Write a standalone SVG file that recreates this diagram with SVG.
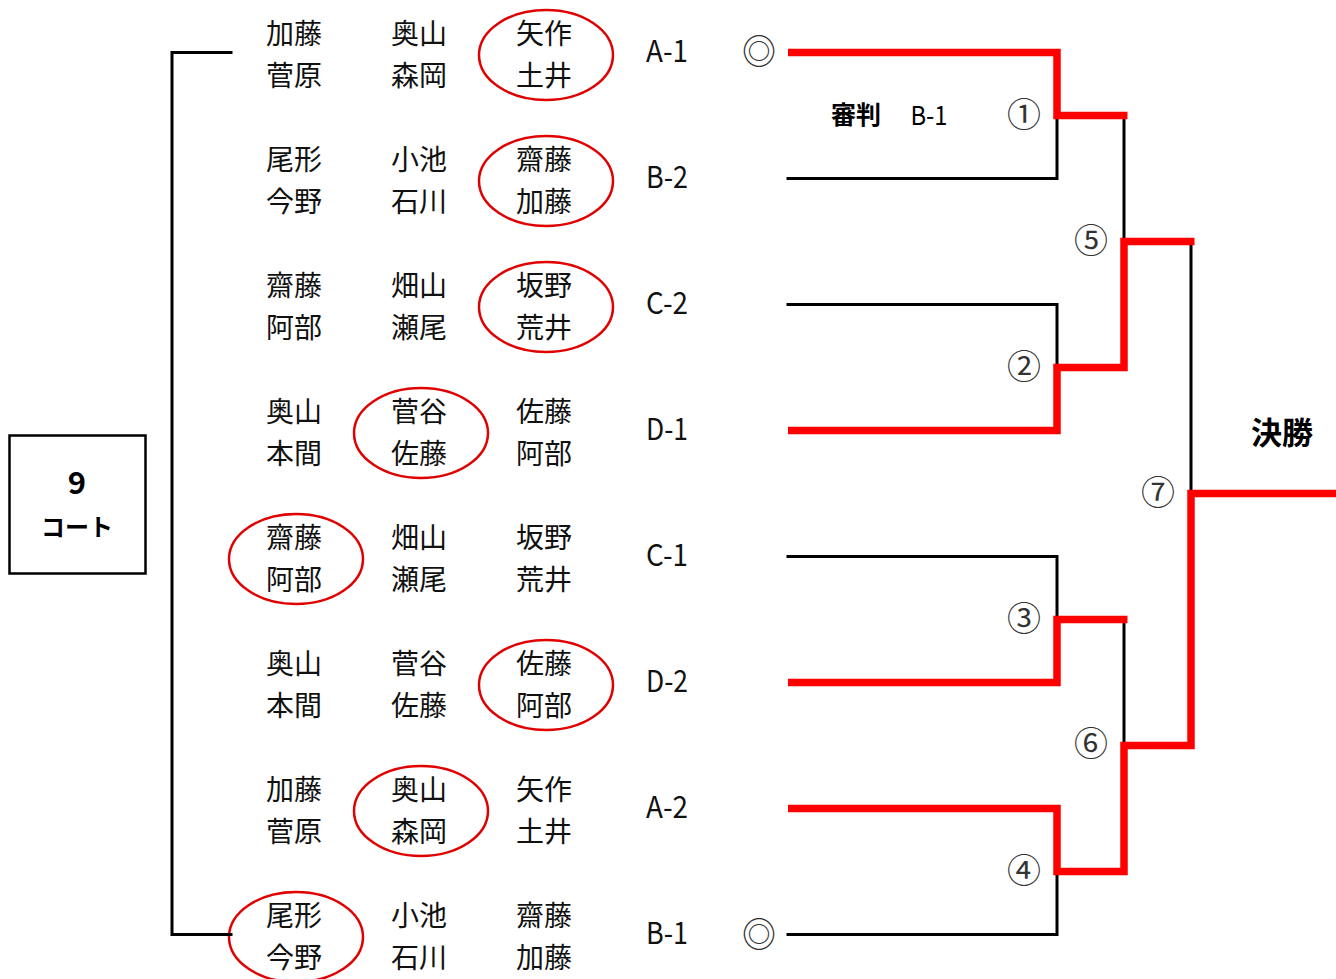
<svg xmlns="http://www.w3.org/2000/svg" width="1336" height="979" viewBox="0 0 1336 979">
<style>
.nm{font-family:"Noto Sans CJK JP","Noto Sans CJK SC",sans-serif;font-size:28px;fill:#111;text-anchor:middle;dominant-baseline:central}
.lb{font-family:"Noto Sans CJK JP",sans-serif;font-size:30px;fill:#111;text-anchor:middle;dominant-baseline:central}
.ov{fill:none;stroke:#E00000;stroke-width:2.5}
.num{font-family:"Noto Sans CJK JP",sans-serif;font-size:34px;fill:#333;text-anchor:middle;dominant-baseline:central}
.blk{fill:none;stroke:#000;stroke-width:3;stroke-linejoin:miter;stroke-linecap:square}
.red{fill:none;stroke:#FF0000;stroke-width:7.5;stroke-linejoin:miter;stroke-linecap:butt}
.bold{font-family:"Noto Sans CJK JP",sans-serif;font-weight:bold;fill:#000;text-anchor:middle;dominant-baseline:central}
.plain{font-family:"Noto Sans CJK JP",sans-serif;font-weight:normal;fill:#000;text-anchor:middle;dominant-baseline:central}
</style>
<rect width="1336" height="979" fill="#fff"/>

<g id="court">
<rect x="9.5" y="435.5" width="136" height="138" fill="#fff" stroke="#000" stroke-width="2.5"/>
<text class="bold" x="77" y="480" font-size="31">9</text>
<text class="bold" x="77" y="525" font-size="24">コート</text>
</g>

<g id="team-A1">
<ellipse class="ov" cx="546" cy="55" rx="67" ry="45"/>
<text class="nm" x="294" y="32">加藤</text><text class="nm" x="294" y="74">菅原</text>
<text class="nm" x="419" y="32">奥山</text><text class="nm" x="419" y="74">森岡</text>
<text class="nm" x="544" y="32">矢作</text><text class="nm" x="544" y="74">土井</text>
<text class="lb" x="667" y="49" textLength="42" lengthAdjust="spacingAndGlyphs">A-1</text>
</g>
<g id="team-B2">
<ellipse class="ov" cx="546" cy="181" rx="67" ry="45"/>
<text class="nm" x="294" y="158">尾形</text><text class="nm" x="294" y="200">今野</text>
<text class="nm" x="419" y="158">小池</text><text class="nm" x="419" y="200">石川</text>
<text class="nm" x="544" y="158">齋藤</text><text class="nm" x="544" y="200">加藤</text>
<text class="lb" x="667" y="175" textLength="42" lengthAdjust="spacingAndGlyphs">B-2</text>
</g>
<g id="team-C2">
<ellipse class="ov" cx="546" cy="307" rx="67" ry="45"/>
<text class="nm" x="294" y="284">齋藤</text><text class="nm" x="294" y="326">阿部</text>
<text class="nm" x="419" y="284">畑山</text><text class="nm" x="419" y="326">瀬尾</text>
<text class="nm" x="544" y="284">坂野</text><text class="nm" x="544" y="326">荒井</text>
<text class="lb" x="667" y="301" textLength="42" lengthAdjust="spacingAndGlyphs">C-2</text>
</g>
<g id="team-D1">
<ellipse class="ov" cx="421" cy="433" rx="67" ry="45"/>
<text class="nm" x="294" y="410">奥山</text><text class="nm" x="294" y="452">本間</text>
<text class="nm" x="419" y="410">菅谷</text><text class="nm" x="419" y="452">佐藤</text>
<text class="nm" x="544" y="410">佐藤</text><text class="nm" x="544" y="452">阿部</text>
<text class="lb" x="667" y="427" textLength="42" lengthAdjust="spacingAndGlyphs">D-1</text>
</g>
<g id="team-C1">
<ellipse class="ov" cx="296" cy="559" rx="67" ry="45"/>
<text class="nm" x="294" y="536">齋藤</text><text class="nm" x="294" y="578">阿部</text>
<text class="nm" x="419" y="536">畑山</text><text class="nm" x="419" y="578">瀬尾</text>
<text class="nm" x="544" y="536">坂野</text><text class="nm" x="544" y="578">荒井</text>
<text class="lb" x="667" y="553" textLength="42" lengthAdjust="spacingAndGlyphs">C-1</text>
</g>
<g id="team-D2">
<ellipse class="ov" cx="546" cy="685" rx="67" ry="45"/>
<text class="nm" x="294" y="662">奥山</text><text class="nm" x="294" y="704">本間</text>
<text class="nm" x="419" y="662">菅谷</text><text class="nm" x="419" y="704">佐藤</text>
<text class="nm" x="544" y="662">佐藤</text><text class="nm" x="544" y="704">阿部</text>
<text class="lb" x="667" y="679" textLength="42" lengthAdjust="spacingAndGlyphs">D-2</text>
</g>
<g id="team-A2">
<ellipse class="ov" cx="421" cy="811" rx="67" ry="45"/>
<text class="nm" x="294" y="788">加藤</text><text class="nm" x="294" y="830">菅原</text>
<text class="nm" x="419" y="788">奥山</text><text class="nm" x="419" y="830">森岡</text>
<text class="nm" x="544" y="788">矢作</text><text class="nm" x="544" y="830">土井</text>
<text class="lb" x="667" y="805" textLength="42" lengthAdjust="spacingAndGlyphs">A-2</text>
</g>
<g id="team-B1">
<ellipse class="ov" cx="296" cy="937" rx="67" ry="45"/>
<text class="nm" x="294" y="914">尾形</text><text class="nm" x="294" y="956">今野</text>
<text class="nm" x="419" y="914">小池</text><text class="nm" x="419" y="956">石川</text>
<text class="nm" x="544" y="914">齋藤</text><text class="nm" x="544" y="956">加藤</text>
<text class="lb" x="667" y="931" textLength="42" lengthAdjust="spacingAndGlyphs">B-1</text>
</g>

<g id="connectors">
<path class="blk" d="M231 52.5 H172 V934.5 H231"/>
<path class="blk" d="M788 178.5 H1057 V115.5"/>
<path class="blk" d="M1124 115.5 V241.5"/>
<path class="blk" d="M788 304.5 H1057 V367.5"/>
<path class="blk" d="M1191 241.5 V493.5"/>
<path class="blk" d="M788 556.5 H1057 V619.5"/>
<path class="blk" d="M1124 619.5 V745.5"/>
<path class="blk" d="M788 934.5 H1057 V871.5"/>
<path class="red" d="M788 52.5 H1057 V115.5 H1127.5"/>
<path class="red" d="M788 430.5 H1057 V367.5 H1124 V241.5 H1194.5"/>
<path class="red" d="M788 682.5 H1057 V619.5 H1127.5"/>
<path class="red" d="M788 808.5 H1057 V871.5 H1124 V745.5 H1191 V493.5 H1336"/>
</g>

<g id="marks">
<text class="num" x="759" y="49" font-size="28">◎</text>
<text class="num" x="759" y="932" font-size="28">◎</text>
<text class="num" x="1024" y="112">①</text>
<text class="num" x="1024" y="364">②</text>
<text class="num" x="1024" y="616">③</text>
<text class="num" x="1024" y="868">④</text>
<text class="num" x="1091" y="238">⑤</text>
<text class="num" x="1091" y="741">⑥</text>
<text class="num" x="1158" y="490">⑦</text>
<text class="bold" x="856" y="113" font-size="25">審判</text>
<text class="plain" x="929" y="113" font-size="26" textLength="37" lengthAdjust="spacingAndGlyphs">B-1</text>
<text class="bold" x="1282" y="430" font-size="31">決勝</text>
</g>
</svg>
